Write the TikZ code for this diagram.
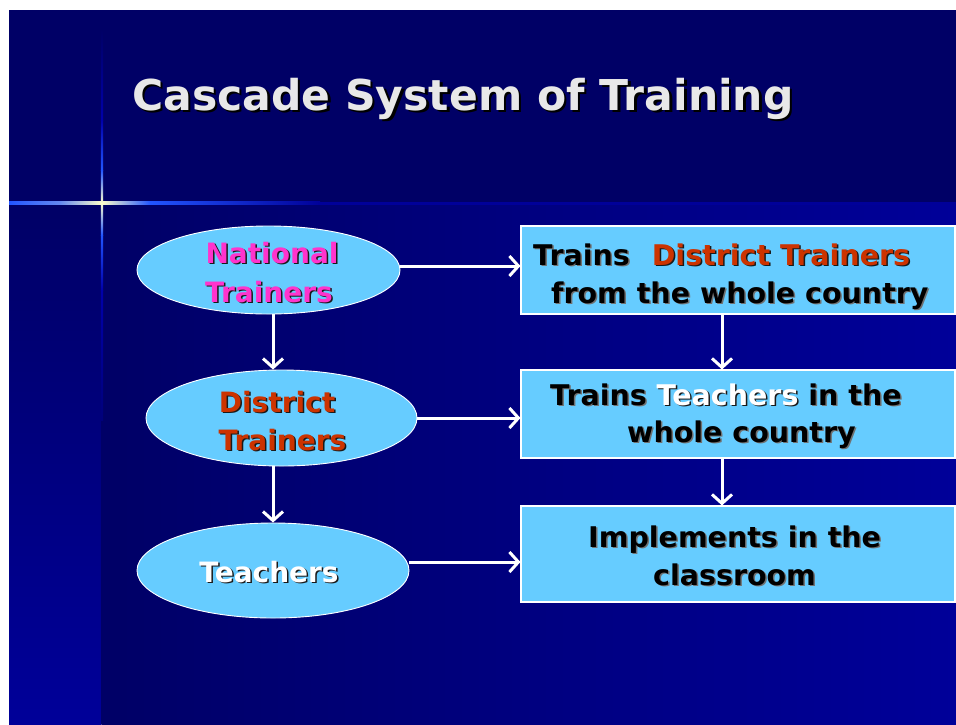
\documentclass[tikz,border=0pt]{standalone}
\usepackage{fontspec}
\setmainfont{DejaVu Sans}
\usetikzlibrary{arrows.meta,shapes.geometric}
\definecolor{navy}{HTML}{000066}
\definecolor{blueB}{HTML}{000099}
\definecolor{blueM}{HTML}{0000AA}
\definecolor{glowB}{HTML}{2255FF}
\definecolor{glowY}{HTML}{FFFFCC}
\definecolor{fillC}{HTML}{66CCFF}
\definecolor{magC}{HTML}{FF33CC}
\definecolor{orgC}{HTML}{CC3300}
\definecolor{ttlC}{HTML}{E8E8E8}
\definecolor{shdC}{HTML}{1A1A1A}
\definecolor{shdG}{HTML}{707070}
\newcommand{\shtxt}[4][1.5pt]{\rlap{\kern#1\raisebox{-#1}{\textcolor{#3}{#4}}}\textcolor{#2}{#4}}
\begin{document}
\begin{tikzpicture}[x=1pt,y=-1pt,
  ell/.style={ellipse, fill=fillC, draw=white, line width=0.9pt, inner sep=0pt},
  boxn/.style={rectangle, fill=fillC, draw=white, line width=1.1pt, inner sep=0pt},
  arr/.style={draw=white, line width=3pt, -{Straight Barb[length=9pt,width=20pt]}},
  txt/.style={font=\fontsize{28}{34}\selectfont\bfseries, inner sep=0pt},
  btxt/.style={font=\fontsize{28.5}{34}\selectfont\bfseries, inner sep=0pt, anchor=base west},
  ]
\useasboundingbox (0,0) rectangle (956,724);
\fill[white] (0,0) rectangle (956,724);
% background
\fill[navy] (9,10) rectangle (956,204);
\shade[top color=navy, bottom color=blueB] (9,203) rectangle (101.5,724);
\shade[left color=navy, right color=blueB] (101.5,203) rectangle (956,724);
% horizontal glow line
\shade[left color=glowB, right color=glowB!70!glowY] (9,201.5) rectangle (60,204.5);
\shade[left color=glowB!70!glowY, right color=glowY] (60,201.5) rectangle (102,204.5);
\shade[left color=glowY, right color=glowB] (102,201.5) rectangle (150,204.5);
\shade[left color=glowB, right color=blueB] (150,201.5) rectangle (320,204.5);
\fill[blueB] (320,201.5) rectangle (956,204.5);
% vertical glow line
\shade[top color=navy, bottom color=blueM] (100.8,30) rectangle (103.2,120);
\shade[top color=blueM, bottom color=glowB] (100.8,120) rectangle (103.2,170);
\shade[top color=glowB, bottom color=glowY] (100.8,170) rectangle (103.2,203);
\shade[top color=glowY, bottom color=glowB] (100.8,203) rectangle (103.2,235);
\shade[top color=glowB, bottom color=blueM] (100.8,235) rectangle (103.2,290);
\shade[top color=blueM, bottom color=navy!60!blueB] (100.8,290) rectangle (103.2,420);
% title
\node[anchor=base west, inner sep=0pt, font=\fontsize{42.5}{50}\selectfont\bfseries] (title) at (132,110) {\shtxt[2.5pt]{ttlC}{black}{Cascade System of Training}};
% ellipses
\node[ell, minimum width=263pt, minimum height=88pt] (e1) at (268.5,270) {};
\node[ell, minimum width=271pt, minimum height=96pt] (e2) at (281.5,418) {};
\node[ell, minimum width=272pt, minimum height=95pt] (e3) at (273,570.5) {};
% boxes
\node[boxn, minimum width=434pt, minimum height=88pt] (b1) at (738,270) {};
\node[boxn, minimum width=434pt, minimum height=88pt] (b2) at (738,414) {};
\node[boxn, minimum width=434pt, minimum height=96pt] (b3) at (738,554) {};
% ellipse texts
\node[txt, anchor=base] (t1a) at (272,263) {\shtxt{magC}{shdC}{National}};
\node[txt, anchor=base] (t1b) at (269,302) {\shtxt{magC}{shdC}{Trainers}};
\node[txt, anchor=base] (t2a) at (277,412) {\shtxt{orgC}{shdC}{District}};
\node[txt, anchor=base] (t2b) at (282.5,450) {\shtxt{orgC}{shdC}{Trainers}};
\node[txt, anchor=base] (t3) at (269,582) {\shtxt{white}{shdC}{Teachers}};
% box texts
\node[btxt] (b1a) at (533,265) {\shtxt{black}{shdG}{Trains}\hspace{22pt}\shtxt{orgC}{shdC}{District Trainers}};
\node[btxt] (b1b) at (551,303) {\shtxt{black}{shdG}{from the whole country}};
\node[btxt] (b2a) at (550,405) {\shtxt{black}{shdG}{Trains} \shtxt{white}{shdC}{Teachers} \shtxt{black}{shdG}{in the}};
\node[btxt] (b2b) at (627,442) {\shtxt{black}{shdG}{whole country}};
\node[btxt] (b3a) at (588,547) {\shtxt{black}{shdG}{Implements in the}};
\node[btxt] (b3b) at (653,585) {\shtxt{black}{shdG}{classroom}};
% arrows
\draw[arr] ([yshift=4pt]e1.east) -- ([yshift=4pt]e1.east -| b1.west);
\draw[arr] (e2.east) -- (e2.east -| b2.west);
\draw[arr] ([yshift=8.5pt]e3.east) -- ([yshift=8.5pt]e3.east -| b3.west);
\draw[arr] ([xshift=4.5pt]e1.south) -- ([xshift=4.5pt]e1.south |- e2.north);
\draw[arr] ([xshift=-8.5pt]e2.south) -- ([xshift=-8.5pt]e2.south |- e3.north);
\draw[arr] ([xshift=-16pt]b1.south) -- ([xshift=-16pt]b1.south |- b2.north);
\draw[arr] ([xshift=-16pt]b2.south) -- ([xshift=-16pt]b2.south |- b3.north);
\end{tikzpicture}
\end{document}
